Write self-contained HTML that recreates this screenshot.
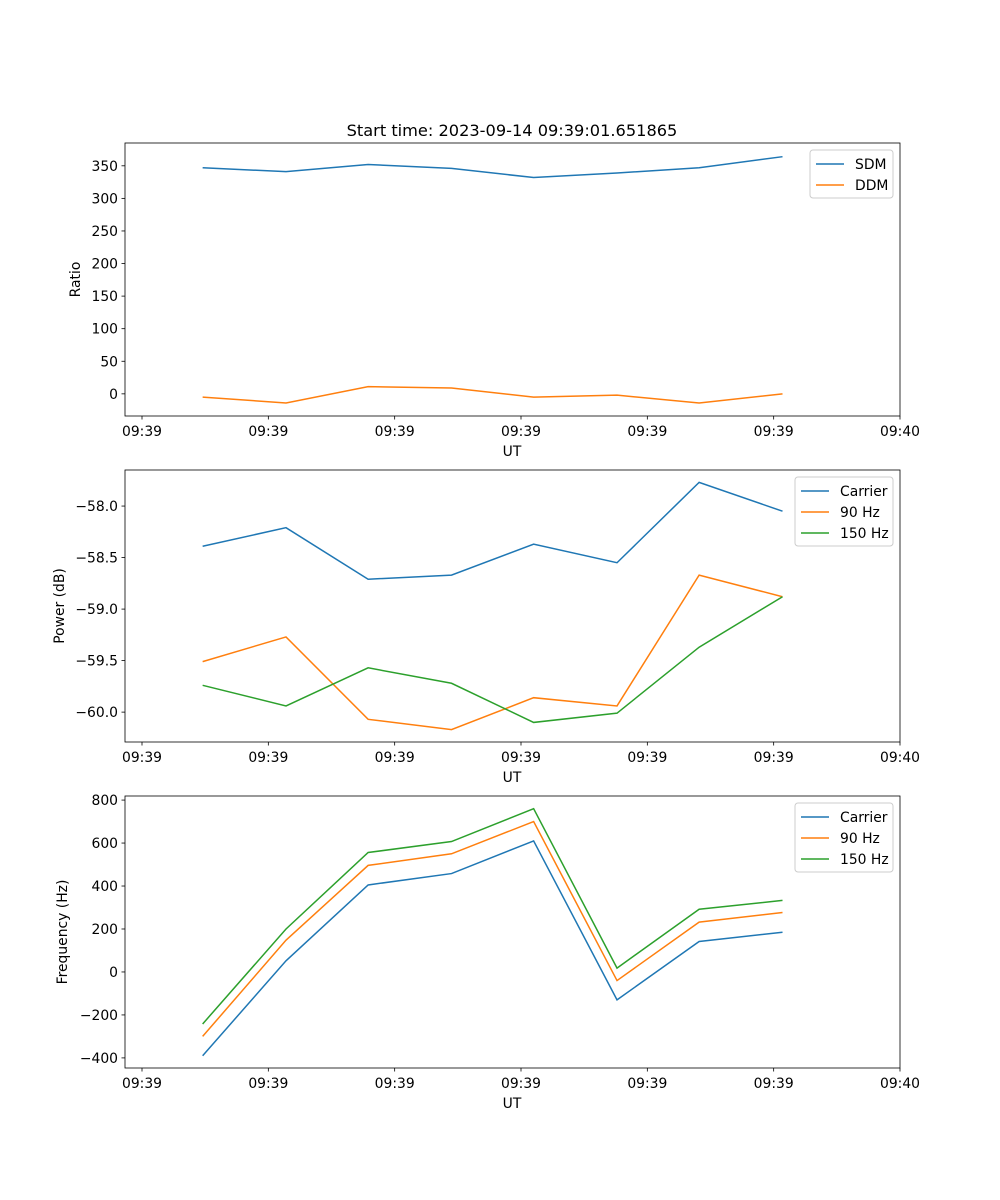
<!DOCTYPE html>
<html><head><meta charset="utf-8"><style>
body{margin:0;background:#fff}
svg{display:block;font-family:"DejaVu Sans","Liberation Sans",sans-serif}
</style></head><body>
<svg id="fig" width="1000" height="1200"></svg>
<script>
const times = [4.8, 11.4, 17.9, 24.5, 31.0, 37.6, 44.1, 50.7];
const xTickLabels = ["09:39","09:39","09:39","09:39","09:39","09:39","09:40"];
const sdm = [347, 341, 352, 346, 332, 339, 347, 364];
const ddm = [-5, -14, 11, 9, -5, -2, -14, 0];
const powCarrier = [-58.39, -58.21, -58.71, -58.67, -58.37, -58.55, -57.77, -58.05];
const pow90 = [-59.51, -59.27, -60.07, -60.17, -59.86, -59.94, -58.67, -58.88];
const pow150 = [-59.74, -59.94, -59.57, -59.72, -60.10, -60.01, -59.37, -58.88];
const freqCarrier = [-390, 52, 405, 458, 610, -130, 142, 185];
const freq90 = [-300, 148, 496, 550, 700, -40, 232, 277];
const freq150 = [-242, 200, 556, 607, 760, 18, 292, 333];
const ratioTicks = [0,50,100,150,200,250,300,350];
const powTicks = [-60.0,-59.5,-59.0,-58.5,-58.0];
const freqTicks = [-400,-200,0,200,400,600,800];

const NS="http://www.w3.org/2000/svg";
const svg=document.getElementById('fig');
function mk(tag,attrs,parent,text){const e=document.createElementNS(NS,tag);for(const k in attrs)e.setAttribute(k,attrs[k]);if(text!==undefined)e.textContent=text;(parent||svg).appendChild(e);return e;}
const L=125,R=900;
const xs=t=>142+(t/60)*(900-142);
const C=["#1f77b4","#ff7f0e","#2ca02c"];

function panel(name,top,bot,ymin,ymax,ticks,fmt,ylabel,series,labels,legW){
  const g=mk('g',{},svg);
  
  
  const ys=v=>bot-(v-ymin)/(ymax-ymin)*(bot-top);
  series.forEach((s,i)=>{
    const p=mk('polyline',{points:s.map((v,j)=>xs(times[j])+','+ys(v)).join(' '),fill:'none',stroke:C[i],'stroke-width':1.5},g);
    
    
  });
  const fr=mk('rect',{x:L,y:top,width:R-L,height:bot-top,fill:'none',stroke:'#000','stroke-width':0.8},g);
  
  
  ticks.forEach(v=>{const y=ys(v);mk('line',{x1:L-3.5,x2:L,y1:y,y2:y,stroke:'#000','stroke-width':0.8},g);
    const t=mk('text',{x:L-7,y:y+5,'text-anchor':'end','font-size':13.9},g,fmt(v));
    });
  xTickLabels.forEach((lb,i)=>{const x=xs(i*10);mk('line',{x1:x,x2:x,y1:bot,y2:bot+3.5,stroke:'#000','stroke-width':0.8},g);
    const t=mk('text',{x:x,y:bot+20,'text-anchor':'middle','font-size':13.9},g,lb);
    });
  const xl=mk('text',{x:512,y:bot+40,'text-anchor':'middle','font-size':13.9},g,'UT');
  
  const cy=(top+bot)/2;
  const yl=mk('text',{x:0,y:0,'text-anchor':'middle','font-size':13.9,transform:`translate(${ylabel[1]},${cy}) rotate(-90)`},g,ylabel[0]);
  
  const lx=R-7-legW, ly=top+7, lh=labels.length*21+6;
  const lg=mk('g',{},g);
  
  mk('rect',{x:lx,y:ly,width:legW,height:lh,rx:3,fill:'#fff','fill-opacity':0.8,stroke:'#ccc'},lg);
  labels.forEach((lb,i)=>{const y=ly+14+i*21;
    mk('line',{x1:lx+6,x2:lx+34,y1:y,y2:y,stroke:C[i],'stroke-width':1.5},lg);
    const t=mk('text',{x:lx+45,y:y+5,'font-size':13.9},lg,lb);
    });
}
const ttl=mk('text',{x:512,y:136,'text-anchor':'middle','font-size':16.2},svg,'Start time: 2023-09-14 09:39:01.651865');

panel('ratio',143,416,-34,385,ratioTicks,v=>String(v),['Ratio',80],[sdm,ddm],['SDM','DDM'],83);
panel('power',470,742,-60.29,-57.65,powTicks,v=>'\u2212'+Math.abs(v).toFixed(1),['Power (dB)',64],[powCarrier,pow90,pow150],['Carrier','90 Hz','150 Hz'],98);
panel('frequency',796,1068,-447,819,freqTicks,v=>(v<0?'\u2212':'')+Math.abs(v),['Frequency (Hz)',67],[freqCarrier,freq90,freq150],['Carrier','90 Hz','150 Hz'],98);
</script>
</body></html>
